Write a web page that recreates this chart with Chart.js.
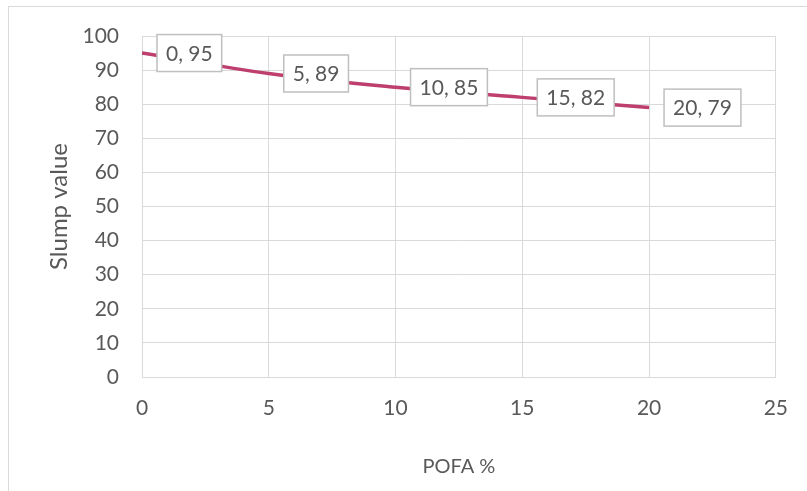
<!DOCTYPE html>
<html>
<head>
<meta charset="utf-8">
<script src="https://cdn.jsdelivr.net/npm/chart.js@4/dist/chart.umd.min.js"></script>
<style>
  html, body { margin: 0; padding: 0; background: #ffffff; overflow: hidden; width: 807px; height: 491px; }
  #frame { position: absolute; left: 8px; top: 6px; width: 900px; height: 600px; border-top: 1px solid #d9d9d9; border-left: 1px solid #d9d9d9; }
  #chart { position: absolute; left: 0; top: 0; }
</style>
</head>
<body>
<div id="frame"></div>
<canvas id="chart" width="807" height="491"></canvas>
<script>
// POFA replacement level (%) against measured slump
const pofaPercent = [0, 5, 10, 15, 20];
const slumpValues = [95, 89, 85, 82, 79];
const xTicks = [0, 5, 10, 15, 20, 25];
const yTicks = [0, 10, 20, 30, 40, 50, 60, 70, 80, 90, 100];

const textColor = '#595959';
const gridColor = '#d9d9d9';
const fontFamily = 'Lato, "Open Sans", sans-serif';

// Boxed "x, y" labels drawn beside each point
const pointLabels = {
  id: 'pointLabels',
  afterDatasetsDraw(chart) {
    const ctx = chart.ctx;
    const meta = chart.getDatasetMeta(0);
    ctx.save();
    ctx.font = '21px ' + fontFamily;
    ctx.textBaseline = 'middle';
    ctx.textAlign = 'left';
    meta.data.forEach((pt, i) => {
      const text = pofaPercent[i] + ', ' + slumpValues[i];
      const w = ctx.measureText(text).width + 18;
      const h = 37;
      const bx = pt.x + 15;
      const by = pt.y - h / 2;
      ctx.fillStyle = '#ffffff';
      ctx.fillRect(bx, by, w, h);
      ctx.strokeStyle = '#bfbfbf';
      ctx.lineWidth = 1.5;
      ctx.strokeRect(bx, by, w, h);
      ctx.fillStyle = textColor;
      ctx.fillText(text, bx + 9, pt.y + 1);
    });
    ctx.restore();
  }
};

new Chart(document.getElementById('chart'), {
  type: 'scatter',
  data: {
    datasets: [{
      data: pofaPercent.map((x, i) => ({ x: x, y: slumpValues[i] })),
      showLine: true,
      borderColor: '#be3e6d',
      backgroundColor: '#be3e6d',
      borderWidth: 3.5,
      pointRadius: 0,
      tension: 0.4
    }]
  },
  options: {
    responsive: false,
    animation: false,
    layout: { padding: { left: 8, right: 28, top: 36, bottom: 0 } },
    plugins: { legend: { display: false }, tooltip: { enabled: false } },
    scales: {
      x: {
        type: 'linear',
        min: 0,
        max: 25,
        afterBuildTicks(scale) { scale.ticks = xTicks.map(v => ({ value: v })); },
        afterFit(scale) { scale.height = 114; },
        grid: { color: gridColor, lineWidth: 1, drawTicks: false },
        border: { color: gridColor, width: 1 },
        ticks: { color: textColor, font: { family: fontFamily, size: 21 }, padding: 19 },
        title: { display: true, text: 'POFA %', color: textColor, font: { family: fontFamily, size: 20 }, padding: { top: 0, bottom: 12 } }
      },
      y: {
        type: 'linear',
        min: 0,
        max: 100,
        afterBuildTicks(scale) { scale.ticks = yTicks.map(v => ({ value: v })); },
        afterFit(scale) { scale.width = 134; },
        grid: { color: gridColor, lineWidth: 1, drawTicks: false },
        border: { color: gridColor, width: 1 },
        ticks: { color: textColor, font: { family: fontFamily, size: 21 }, padding: 23 },
        title: { display: true, text: 'Slump value', color: textColor, font: { family: fontFamily, size: 24 }, padding: { top: 37, bottom: 0 } }
      }
    }
  },
  plugins: [pointLabels]
});
</script>
</body>
</html>
